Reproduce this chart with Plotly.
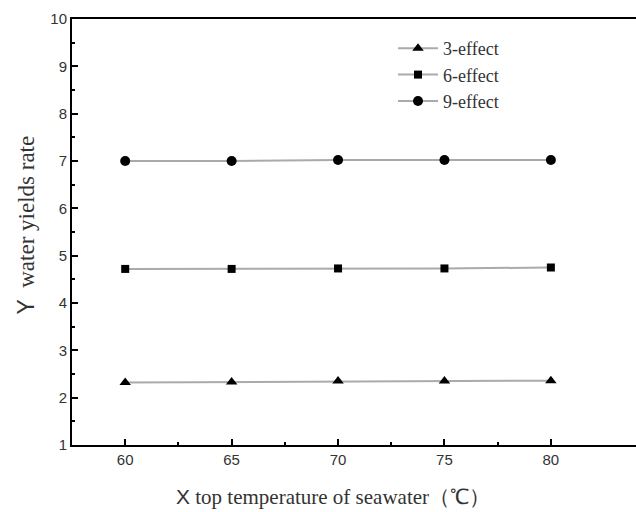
import plotly.graph_objects as go

x_temp = [60, 65, 70, 75, 80]
y_3effect = [2.32, 2.33, 2.35, 2.35, 2.36]
y_6effect = [4.72, 4.72, 4.73, 4.73, 4.75]
y_9effect = [7.00, 7.00, 7.02, 7.02, 7.02]
series_names = ["3-effect", "6-effect", "9-effect"]
x_ticks = [60, 65, 70, 75, 80]
x_minor = [62.5, 67.5, 72.5, 77.5]
y_ticks = [1, 2, 3, 4, 5, 6, 7, 8, 9, 10]

fig = go.Figure()
for name, ys, sym, sz in zip(series_names, [y_3effect, y_6effect, y_9effect],
                             ["triangle-up", "square", "circle"], [10, 8, 10]):
    fig.add_trace(go.Scatter(
        x=x_temp, y=ys, name=name, mode="lines+markers",
        line=dict(color="#aaaaaa", width=2),
        marker=dict(symbol=sym, color="black", size=sz),
    ))

W, H = 636, 512
ml, mt, mb, mr = 72, 19, 67, 0
fig.update_layout(
    width=W, height=H,
    margin=dict(l=ml, r=mr, t=mt, b=mb, autoexpand=False),
    paper_bgcolor="white", plot_bgcolor="white",
    showlegend=True,
    legend=dict(x=(393 - ml) / (W - ml - mr), y=1 - (30 - mt) / (H - mt - mb),
                xanchor="left", yanchor="top",
                bgcolor="rgba(0,0,0,0)",
                font=dict(family="Liberation Serif", size=18, color="#333"),
                tracegroupgap=0, itemwidth=40),
    font=dict(family="Liberation Sans", size=15, color="#333"),
)
fig.update_xaxes(
    range=[57.5, 84], tickvals=x_ticks, ticks="inside", ticklen=6, tickwidth=1.5,
    tickcolor="black", showline=True, linecolor="black", linewidth=2,
    mirror=True, showgrid=False, zeroline=False,
    minor=dict(ticks="inside", ticklen=3, tickwidth=1.5, tickcolor="black",
               tickvals=x_minor, showgrid=False),
    tickfont=dict(family="Liberation Sans", size=15, color="#333"),
)
fig.update_yaxes(
    range=[1, 10], tickvals=y_ticks, ticks="inside", ticklen=6, tickwidth=1.5,
    tickcolor="black", showline=True, linecolor="black", linewidth=2,
    showgrid=False, zeroline=False,
    minor=dict(ticks="inside", ticklen=3, tickwidth=1.5, tickcolor="black",
               tick0=1.5, dtick=1, showgrid=False),
    tickfont=dict(family="Liberation Sans", size=15, color="#333"),
)
fig.add_annotation(
    xref="paper", yref="paper", x=(333 - ml) / (W - ml - mr),
    y=-(497 - (H - mb)) / (H - mt - mb),
    xanchor="center", yanchor="middle", showarrow=False,
    text="<span style='font-family:Liberation Sans'>X</span> top temperature of seawater（℃）",
    font=dict(family="Liberation Serif", size=21, color="#333"),
)
fig.add_annotation(
    xref="paper", yref="paper", x=-(ml - 26) / (W - ml - mr), y=0.515,
    xanchor="center", yanchor="middle", showarrow=False, textangle=-90,
    text="<span style='font-family:Liberation Sans'>Y</span>  water yields rate",
    font=dict(family="Liberation Serif", size=23, color="#333"),
)
fig.write_html(
    "out.html", config={"displayModeBar": False},
    post_script=("document.body.style.margin='0';"
                 "document.body.style.overflow='hidden';"
                 "document.documentElement.style.overflow='hidden';"))
